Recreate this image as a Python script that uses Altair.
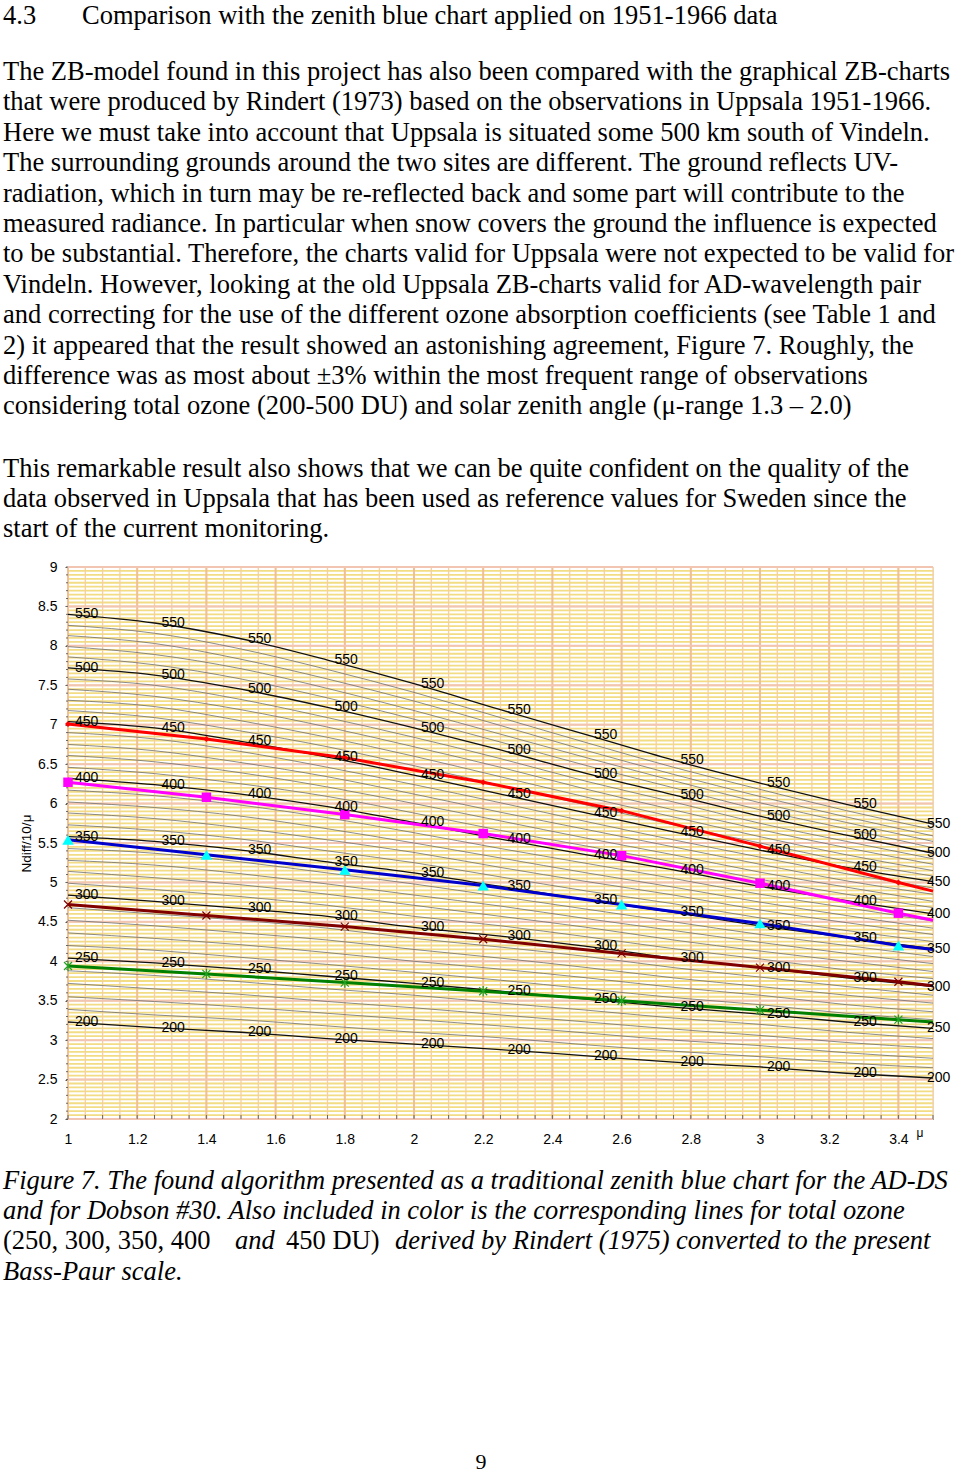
import altair as alt
import pandas as pd

# ---------------- chart data ----------------
MU = [1.0, 1.25, 1.5, 1.75, 2.0, 2.25, 2.5, 2.75, 3.0, 3.25, 3.5]

Z200 = [3.23, 3.16, 3.10, 3.02, 2.95, 2.88, 2.80, 2.72, 2.66, 2.58, 2.52]
Z210 = [3.39, 3.32, 3.26, 3.18, 3.10, 3.03, 2.94, 2.86, 2.79, 2.71, 2.65]
Z220 = [3.55, 3.49, 3.42, 3.34, 3.26, 3.18, 3.09, 3.00, 2.93, 2.84, 2.77]
Z230 = [3.72, 3.65, 3.58, 3.49, 3.41, 3.32, 3.23, 3.14, 3.06, 2.97, 2.90]
Z240 = [3.88, 3.82, 3.74, 3.65, 3.57, 3.47, 3.38, 3.28, 3.20, 3.10, 3.02]
Z250 = [4.04, 3.98, 3.90, 3.81, 3.72, 3.62, 3.52, 3.42, 3.33, 3.23, 3.15]
Z260 = [4.20, 4.14, 4.05, 3.96, 3.86, 3.76, 3.65, 3.54, 3.45, 3.34, 3.26]
Z270 = [4.36, 4.29, 4.21, 4.11, 4.00, 3.90, 3.79, 3.67, 3.57, 3.45, 3.36]
Z280 = [4.52, 4.45, 4.36, 4.27, 4.15, 4.04, 3.92, 3.79, 3.68, 3.57, 3.47]
Z290 = [4.68, 4.60, 4.52, 4.42, 4.29, 4.18, 4.06, 3.92, 3.80, 3.68, 3.57]
Z300 = [4.84, 4.76, 4.67, 4.57, 4.43, 4.32, 4.19, 4.04, 3.92, 3.79, 3.68]
Z310 = [4.99, 4.91, 4.82, 4.71, 4.57, 4.45, 4.31, 4.16, 4.03, 3.89, 3.78]
Z320 = [5.14, 5.06, 4.97, 4.85, 4.71, 4.57, 4.43, 4.27, 4.13, 4.00, 3.87]
Z330 = [5.28, 5.22, 5.11, 4.98, 4.84, 4.70, 4.54, 4.39, 4.24, 4.10, 3.97]
Z340 = [5.43, 5.37, 5.26, 5.12, 4.98, 4.82, 4.66, 4.50, 4.34, 4.20, 4.06]
Z350 = [5.58, 5.52, 5.41, 5.26, 5.12, 4.95, 4.78, 4.62, 4.45, 4.30, 4.16]
Z360 = [5.73, 5.66, 5.55, 5.40, 5.25, 5.07, 4.89, 4.73, 4.55, 4.39, 4.25]
Z370 = [5.88, 5.81, 5.69, 5.54, 5.38, 5.19, 5.01, 4.84, 4.65, 4.49, 4.34]
Z380 = [6.02, 5.95, 5.84, 5.68, 5.50, 5.31, 5.12, 4.94, 4.75, 4.58, 4.42]
Z390 = [6.17, 6.10, 5.98, 5.82, 5.63, 5.43, 5.24, 5.05, 4.85, 4.68, 4.51]
Z400 = [6.32, 6.24, 6.12, 5.96, 5.76, 5.55, 5.35, 5.16, 4.95, 4.77, 4.60]
Z410 = [6.46, 6.38, 6.25, 6.09, 5.88, 5.66, 5.46, 5.26, 5.04, 4.85, 4.68]
Z420 = [6.61, 6.53, 6.39, 6.21, 6.00, 5.78, 5.56, 5.35, 5.13, 4.94, 4.76]
Z430 = [6.75, 6.67, 6.52, 6.34, 6.12, 5.89, 5.67, 5.45, 5.23, 5.02, 4.85]
Z440 = [6.90, 6.82, 6.66, 6.46, 6.24, 6.01, 5.77, 5.54, 5.32, 5.11, 4.93]
Z450 = [7.04, 6.96, 6.79, 6.59, 6.36, 6.12, 5.88, 5.64, 5.41, 5.19, 5.01]
Z460 = [7.18, 7.09, 6.92, 6.72, 6.48, 6.23, 5.98, 5.73, 5.50, 5.27, 5.08]
Z470 = [7.31, 7.23, 7.05, 6.84, 6.60, 6.34, 6.08, 5.83, 5.58, 5.35, 5.15]
Z480 = [7.45, 7.36, 7.19, 6.97, 6.72, 6.46, 6.18, 5.92, 5.67, 5.44, 5.23]
Z490 = [7.58, 7.50, 7.32, 7.09, 6.84, 6.57, 6.28, 6.02, 5.75, 5.52, 5.30]
Z500 = [7.72, 7.63, 7.45, 7.22, 6.96, 6.68, 6.38, 6.11, 5.84, 5.60, 5.37]
Z510 = [7.86, 7.76, 7.58, 7.34, 7.07, 6.78, 6.48, 6.20, 5.92, 5.68, 5.44]
Z520 = [7.99, 7.89, 7.71, 7.46, 7.18, 6.88, 6.58, 6.29, 6.01, 5.76, 5.52]
Z530 = [8.13, 8.03, 7.83, 7.58, 7.30, 6.99, 6.67, 6.37, 6.09, 5.83, 5.59]
Z540 = [8.26, 8.16, 7.96, 7.70, 7.41, 7.09, 6.77, 6.46, 6.18, 5.91, 5.67]
Z550 = [8.40, 8.29, 8.09, 7.82, 7.52, 7.19, 6.87, 6.55, 6.26, 5.99, 5.74]

OZONE = [200, 210, 220, 230, 240, 250, 260, 270, 280, 290, 300, 310, 320, 330,
         340, 350, 360, 370, 380, 390, 400, 410, 420, 430, 440, 450, 460, 470,
         480, 490, 500, 510, 520, 530, 540, 550]
ZB_LINES = [Z200, Z210, Z220, Z230, Z240, Z250, Z260, Z270, Z280, Z290, Z300,
            Z310, Z320, Z330, Z340, Z350, Z360, Z370, Z380, Z390, Z400, Z410,
            Z420, Z430, Z440, Z450, Z460, Z470, Z480, Z490, Z500, Z510, Z520,
            Z530, Z540, Z550]

# Rindert (1975) curves converted to Bass-Paur scale
MU_R = [1.0, 1.4, 1.8, 2.2, 2.6, 3.0, 3.4, 3.5]
R450 = [7.01, 6.82, 6.58, 6.27, 5.91, 5.46, 5.00, 4.89]
R400 = [6.27, 6.08, 5.86, 5.62, 5.34, 4.99, 4.61, 4.52]
R350 = [5.54, 5.35, 5.16, 4.96, 4.72, 4.48, 4.20, 4.15]
R300 = [4.72, 4.58, 4.44, 4.28, 4.10, 3.92, 3.74, 3.69]
R250 = [3.94, 3.84, 3.73, 3.62, 3.50, 3.38, 3.26, 3.23]

X_TICKS = [1, 1.2, 1.4, 1.6, 1.8, 2, 2.2, 2.4, 2.6, 2.8, 3, 3.2, 3.4]
Y_TICKS = [2, 2.5, 3, 3.5, 4, 4.5, 5, 5.5, 6, 6.5, 7, 7.5, 8, 8.5, 9]

# ---------------- page text ----------------
HEADING_NUM = "4.3"
HEADING = "Comparison with the zenith blue chart applied on 1951-1966 data"
PARA1 = [
    "The ZB-model found in this project has also been compared with the graphical ZB-charts",
    "that were produced by Rindert (1973) based on the observations in Uppsala 1951-1966.",
    "Here we must take into account that Uppsala is situated some 500 km south of Vindeln.",
    "The surrounding grounds around the two sites are different. The ground reflects UV-",
    "radiation, which in turn may be re-reflected back and some part will contribute to the",
    "measured radiance. In particular when snow covers the ground the influence is expected",
    "to be substantial. Therefore, the charts valid for Uppsala were not expected to be valid for",
    "Vindeln. However, looking at the old Uppsala ZB-charts valid for AD-wavelength pair",
    "and correcting for the use of the different ozone absorption coefficients (see Table 1 and",
    "2) it appeared that the result showed an astonishing agreement, Figure 7. Roughly, the",
    "difference was as most about \u00b13% within the most frequent range of observations",
    "considering total ozone (200-500 DU) and solar zenith angle (\u03bc-range 1.3 \u2013 2.0)",
]
PARA2 = [
    "This remarkable result also shows that we can be quite confident on the quality of the",
    "data observed in Uppsala that has been used as reference values for Sweden since the",
    "start of the current monitoring.",
]
CAPTION_A = [
    "Figure 7. The found algorithm presented as a traditional zenith blue chart for the AD-DS",
    "and for Dobson #30. Also included in color is the corresponding lines for total ozone",
]
CAPTION_L3 = ["(250, 300, 350, 400", "and", "450 DU)",
              "derived by Rindert (1975) converted to the present"]
CAPTION_B = ["Bass-Paur scale."]
PAGE_NO = "9"

# ---------------- layout ----------------
PL, PT, W, H = 68, 567, 865, 552
SERIF = "Liberation Serif"
SANS = "Liberation Sans"
LH = 30.4
FS = 26.5

rows = []
for oz, vals in zip(OZONE, ZB_LINES):
    for m, v in zip(MU, vals):
        rows.append({"oz": oz, "mu": m, "v": v, "main": oz % 50 == 0})
zb = pd.DataFrame(rows)

xscale = alt.Scale(domain=[1, 3.5], nice=False, zero=False)
yscale = alt.Scale(domain=[2, 9], nice=False, zero=False)
x_axis = alt.Axis(values=X_TICKS, format="~g", tickSize=0, labelPadding=13,
                  labelFont=SANS, labelFontSize=14, labelColor="black",
                  labelFlush=False, labelOverlap=False, domainColor="#555555",
                  grid=False, title="\u03bc", titleX=848, titleY=17,
                  titleAlign="left", titleBaseline="alphabetic", titleFont=SANS,
                  titleFontSize=12, titleFontWeight="normal", titleColor="black")
y_axis = alt.Axis(values=Y_TICKS, format="~g", tickSize=3, tickColor="#555555",
                  labelPadding=8, labelFont=SANS, labelFontSize=14,
                  labelColor="black", labelFlush=False, labelOverlap=False,
                  domainColor="#555555", grid=False, title="Ndiff/10/\u03bc",
                  titleX=-42, titleY=H / 2, titleAngle=270, titleAlign="center",
                  titleBaseline="middle", titleFont=SANS, titleFontSize=13.5,
                  titleFontWeight="normal", titleColor="black")
X = alt.X("mu:Q", scale=xscale, axis=x_axis)
Y = alt.Y("v:Q", scale=yscale, axis=y_axis)

x_minor = [round(1 + 0.05 * i, 2) for i in range(51)]
x_major = [round(1 + 0.2 * i, 2) for i in range(13)]
y_minor = [round(2 + 0.05 * i, 2) for i in range(141)]
y_major = [round(2 + 0.5 * i, 2) for i in range(15)]
y_tick_minor = [round(2 + 0.1 * i, 2) for i in range(71)]

layers = []
layers.append(alt.Chart(pd.DataFrame({"v": y_minor})).mark_rule(
    color="#F2DC84", strokeWidth=1.8).encode(y=Y))
layers.append(alt.Chart(pd.DataFrame({"mu": x_minor})).mark_rule(
    color="#F6CFA0", strokeWidth=1.3).encode(x=X))
layers.append(alt.Chart(pd.DataFrame({"mu": x_major})).mark_rule(
    color="#F1BF95", strokeWidth=2).encode(x=X))
layers.append(alt.Chart(pd.DataFrame({"v": y_major})).mark_rule(
    color="#F2C4B2", strokeWidth=2).encode(y=Y))
# small inner ticks on x axis, outer ticks on y axis
layers.append(alt.Chart(pd.DataFrame({"mu": x_minor})).mark_rule(
    color="#666666", strokeWidth=1).encode(x=X, y=alt.value(H - 4), y2=alt.value(H)))
layers.append(alt.Chart(pd.DataFrame({"v": y_tick_minor})).mark_rule(
    color="#666666", strokeWidth=1).encode(y=Y, x=alt.value(-2), x2=alt.value(0)))

# ZB chart lines
layers.append(alt.Chart(zb[~zb["main"]]).mark_line(
    color="#707070", strokeWidth=0.8, interpolate="monotone").encode(
    x=X, y=Y, detail="oz:N"))
layers.append(alt.Chart(zb[zb["main"]]).mark_line(
    color="#111111", strokeWidth=1.3, interpolate="monotone").encode(
    x=X, y=Y, detail="oz:N"))

# Rindert series
series = [
    (R450, "#FF0000", "diamond", True, 36, 1),
    (R400, "#FF00FF", "square", True, 90, 1),
    (R350, "#0000CC", "triangle-up", True, 130, 1),
    (R300, "#800000", "M-1,-1L1,1M-1,1L1,-1", False, 64, 1.2),
    (R250, "#008000", "M-1,-1L1,1M-1,1L1,-1M0,-1.3L0,1.3", False, 64, 1.2),
]
marker_colors = ["#FF0000", "#FF00FF", "#00FFFF", "#800000", "#22A022"]
for (vals, col, shape, filled, size, sw), mcol in zip(series, marker_colors):
    df = pd.DataFrame({"mu": MU_R, "v": vals})
    layers.append(alt.Chart(df).mark_line(color=col, strokeWidth=3).encode(x=X, y=Y))
    layers.append(alt.Chart(df[df["mu"] <= 3.4]).mark_point(
        shape=shape, filled=filled, size=size, color=mcol, opacity=1,
        strokeWidth=sw).encode(x=X, y=Y))

# value labels on ZB lines
lab = zb[zb["main"]]
layers.append(alt.Chart(lab[lab["mu"] < 3.4]).mark_text(
    align="left", baseline="middle", dx=7, font=SANS, fontSize=14,
    color="black").encode(x=X, y=Y, text=alt.Text("oz:Q", format="d")))
layers.append(alt.Chart(lab[lab["mu"] > 3.4]).mark_text(
    align="left", baseline="middle", dx=-6, font=SANS, fontSize=14,
    color="black").encode(x=X, y=Y, text=alt.Text("oz:Q", format="d")))


def page_text(lines, x, y, size=FS, style="normal", align="left", font=SERIF):
    return alt.Chart(pd.DataFrame({"t": ["\n".join(lines)]})).mark_text(
        align=align, baseline="alphabetic", lineBreak="\n", lineHeight=LH,
        font=font, fontSize=size, fontStyle=style, color="black").encode(
        text="t:N", x=alt.value(x - PL), y=alt.value(y - PT))


layers.append(page_text([HEADING_NUM], 3, 24))
layers.append(page_text([HEADING], 82, 24))
layers.append(page_text(PARA1, 3, 80))
layers.append(page_text(PARA2, 3, 476.5))
layers.append(page_text(CAPTION_A, 3, 1188.5, style="italic"))
layers.append(page_text([CAPTION_L3[0]], 3, 1249.3))
layers.append(page_text([CAPTION_L3[1]], 235, 1249.3, style="italic"))
layers.append(page_text([CAPTION_L3[2]], 286, 1249.3))
layers.append(page_text([CAPTION_L3[3]], 395, 1249.3, style="italic"))
layers.append(page_text(CAPTION_B, 3, 1279.7, style="italic"))
layers.append(page_text([PAGE_NO], 481, 1469, size=22, align="center"))

chart = alt.layer(*layers).properties(
    width=W, height=H,
    padding={"left": PL, "top": PT, "right": 960 - PL - W, "bottom": 1475 - PT - H},
    autosize=alt.AutoSizeParams(type="none"),
).configure_view(fill="#FFFBD8", stroke="#8A8A8A", strokeWidth=1
).configure(background="white")

chart.save("out.html", embed_options={"renderer": "svg", "actions": False})
